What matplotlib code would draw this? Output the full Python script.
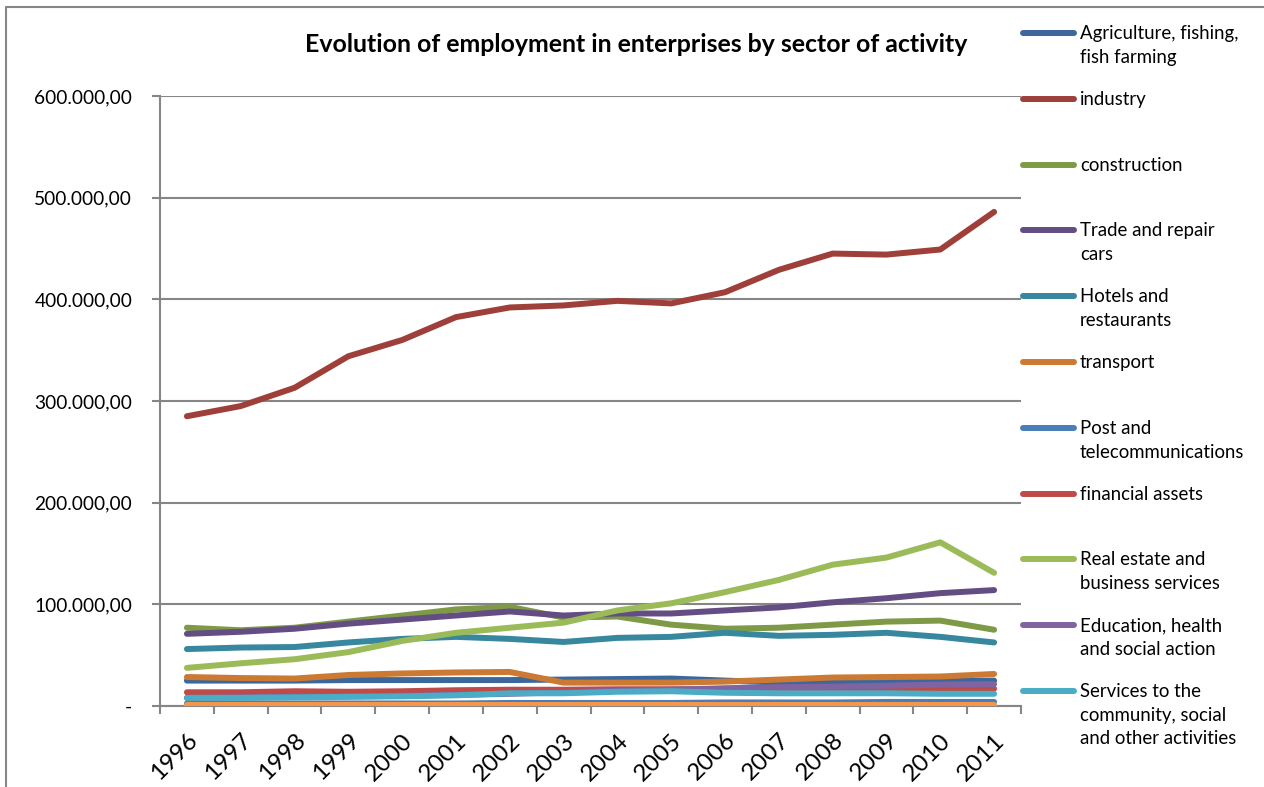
import matplotlib
matplotlib.use("Agg")
import matplotlib.pyplot as plt
from matplotlib.lines import Line2D
from matplotlib.ticker import FuncFormatter, FixedLocator

plt.rcParams['font.family'] = ['Lato', 'DejaVu Sans']

years = ["1996", "1997", "1998", "1999", "2000", "2001", "2002", "2003",
         "2004", "2005", "2006", "2007", "2008", "2009", "2010", "2011"]

# employment per sector (jobs)
agriculture = [25000, 25000, 25000, 25500, 25500, 25500, 25500, 26000,
               26500, 27000, 25000, 23000, 23000, 23500, 24500, 25000]
industry = [285000, 295000, 313000, 344000, 360000, 382500, 392000, 394000,
            398500, 396000, 407000, 429000, 445000, 444000, 449000, 486000]
construction = [77000, 74500, 77000, 83000, 89000, 95000, 97500, 87000,
                88000, 80000, 76000, 77000, 80000, 83000, 84000, 75000]
trade = [71000, 73000, 76000, 81000, 85000, 89000, 93000, 89000,
         91000, 91000, 94000, 97000, 102000, 106000, 111000, 114000]
hotels = [56000, 57500, 58000, 62500, 66000, 68000, 66000, 63000,
          67000, 68000, 72000, 69000, 70000, 72000, 68000, 62500]
transport = [28500, 27500, 27000, 30500, 32000, 33000, 33500, 23000,
             23000, 23000, 24000, 26000, 28000, 28500, 29000, 31500]
post = [2500, 2500, 2500, 2500, 2500, 2500, 3000, 3000,
        3000, 3000, 3500, 3500, 3500, 4000, 4000, 4000]
financial = [13500, 13500, 14500, 14000, 14500, 15500, 16000, 16000,
             16500, 16500, 16500, 16500, 16500, 17000, 17000, 17000]
real_estate = [37500, 42000, 46000, 53000, 64000, 72000, 77000, 82000,
               94000, 101000, 112000, 124000, 139000, 146000, 161000, 131000]
education = [8000, 8500, 9000, 9500, 10000, 11000, 12000, 13500,
             15000, 16000, 17500, 18500, 19000, 20000, 21000, 21500]
services = [8000, 8000, 8500, 9000, 9500, 10500, 12500, 12500,
            14000, 14500, 13000, 12500, 12500, 12500, 12000, 12000]
extraterritorial = [600, 600, 600, 600, 600, 600, 600, 600,
                    600, 600, 600, 600, 600, 600, 600, 600]

series = [agriculture, industry, construction, trade, hotels, transport,
          post, financial, real_estate, education, services, extraterritorial]
labels = ["Agriculture, fishing,\nfish farming", "industry", "construction",
          "Trade and repair\ncars", "Hotels and\nrestaurants", "transport",
          "Post and\ntelecommunications", "financial assets",
          "Real estate and\nbusiness services",
          "Education, health\nand social action",
          "Services to the\ncommunity, social\nand other activities", None]
colors = ["#3C679B", "#9E3F3A", "#7E9A47", "#644D83", "#37879F", "#CC7A33",
          "#4A7EBB", "#BE4B48", "#9BBB59", "#8064A2", "#4BACC6", "#F79646"]

W, H = 1264, 787
fig = plt.figure(figsize=(W / 100, H / 100), dpi=100)
ax = fig.add_axes([160 / W, 1 - 706 / H, (1021 - 160) / W, (706 - 96) / H])

x = list(range(len(years)))
for vals, col in zip(series, colors):
    ax.plot(x, vals, color=col, lw=4.3, solid_capstyle='round',
            solid_joinstyle='round', zorder=3)

grey = "#868686"
ax.set_xlim(-0.5, len(years) - 0.5)
ax.set_ylim(0, 600000)
ax.yaxis.set_major_locator(FixedLocator([0, 100000, 200000, 300000, 400000, 500000, 600000]))


def fmt(v, pos):
    if v == 0:
        return "-"
    return f"{int(v):,}".replace(",", ".") + ",00"


ax.yaxis.set_major_formatter(FuncFormatter(fmt))
ax.grid(axis='y', color=grey, lw=1.5, zorder=1)
ax.set_axisbelow(True)
for s in ["top", "right"]:
    ax.spines[s].set_visible(False)
for s in ["left", "bottom"]:
    ax.spines[s].set_color(grey)
    ax.spines[s].set_linewidth(1.5)

ax.set_xticks(x)
ax.set_xticklabels(years, rotation=45, ha='right', rotation_mode='anchor', fontsize=17.5)
ax.set_xticks([i - 0.5 for i in range(len(years) + 1)], minor=True)
ax.tick_params(axis='x', which='major', length=0, pad=17)
ax.tick_params(axis='x', which='minor', length=6, width=1.5, color=grey, direction='out')
ax.tick_params(axis='y', length=6, width=1.5, color=grey, direction='out',
               labelsize=13.8, pad=14)

fig.text(636 / W, 1 - 45 / H, "Evolution of employment in enterprises by sector of activity",
         ha='center', va='center', fontsize=17.9, fontweight='bold')

# legend drawn alongside the plot, handle aligned with the first text line
top_y = 33
step = 65.8
for i, (lab, col) in enumerate(zip(labels, colors)):
    if lab is None:
        continue
    yy = top_y + i * step
    fig.add_artist(Line2D([1023 / W, 1074 / W], [1 - yy / H, 1 - yy / H],
                          color=col, lw=4.3, solid_capstyle='round'))
    fig.text(1080 / W, 1 - (yy - 8) / H, lab, ha='left', va='top',
             fontsize=13.4, linespacing=1.48)

# outer chart frame
fig.add_artist(Line2D([6 / W, 6 / W, 1.0], [0.0, 1 - 7 / H, 1 - 7 / H],
                      color=grey, lw=1.5))

fig.savefig("out.png", dpi=100)
